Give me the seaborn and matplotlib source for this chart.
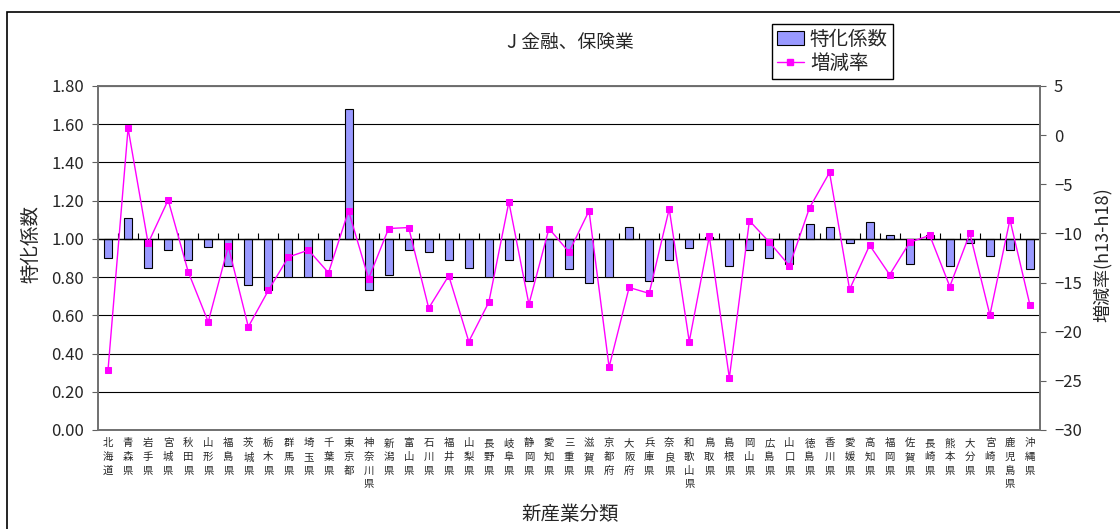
import numpy as np
import matplotlib
matplotlib.use("Agg")
import matplotlib.pyplot as plt
from matplotlib.lines import Line2D
from matplotlib.patches import Patch, Rectangle
from matplotlib.ticker import FormatStrFormatter
import seaborn as sns

prefs = ["北海道", "青森県", "岩手県", "宮城県", "秋田県", "山形県", "福島県",
         "茨城県", "栃木県", "群馬県", "埼玉県", "千葉県", "東京都", "神奈川県",
         "新潟県", "富山県", "石川県", "福井県", "山梨県", "長野県", "岐阜県",
         "静岡県", "愛知県", "三重県", "滋賀県", "京都府", "大阪府", "兵庫県",
         "奈良県", "和歌山県", "鳥取県", "島根県", "岡山県", "広島県", "山口県",
         "徳島県", "香川県", "愛媛県", "高知県", "福岡県", "佐賀県", "長崎県",
         "熊本県", "大分県", "宮崎県", "鹿児島県", "沖縄県"]

# 特化係数
coef = [0.90, 1.11, 0.85, 0.94, 0.89, 0.96, 0.86, 0.76, 0.73, 0.80, 0.80, 0.89,
        1.68, 0.73, 0.81, 0.94, 0.93, 0.89, 0.85, 0.80, 0.89, 0.78, 0.80, 0.84,
        0.77, 0.80, 1.06, 0.78, 0.89, 0.95, 1.01, 0.86, 0.94, 0.90, 0.87, 1.08,
        1.06, 0.98, 1.09, 1.02, 0.87, 1.02, 0.86, 0.98, 0.91, 0.94, 0.84]

# 増減率 (h13-h18)
rate = [-23.9, 0.7, -11.0, -6.6, -13.9, -19.0, -11.3, -19.5, -15.8, -12.4, -11.7,
        -14.0, -7.7, -14.6, -9.5, -9.4, -17.6, -14.3, -21.0, -17.0, -6.8, -17.2,
        -9.5, -11.9, -7.7, -23.6, -15.5, -16.1, -7.5, -21.0, -10.3, -24.7, -8.7,
        -10.9, -13.3, -7.4, -3.8, -15.7, -11.2, -14.2, -10.9, -10.2, -15.4, -10.0,
        -18.3, -8.6, -17.3]

bar_color = "#9999ff"
line_color = "#ff00ff"

sns.set_theme(style="white")
plt.rcParams["font.family"] = ["Noto Sans CJK JP", "DejaVu Sans"]

fig = plt.figure(figsize=(11.2, 5.29), dpi=100)
ax = fig.add_axes([98 / 1120, 1 - 430 / 529, 942 / 1120, 344 / 529])

base = 1.0
sns.barplot(x=prefs, y=np.array(coef) - base, bottom=base, color=bar_color,
            saturation=1, edgecolor="black", linewidth=0.8, width=0.4, ax=ax)

n = len(prefs)
ax.set_xlim(-0.5, n - 0.5)
ax.set_ylim(0, 1.8)
ax.set_yticks(np.arange(0, 1.81, 0.2))
ax.yaxis.set_major_formatter(FormatStrFormatter("%.2f"))
ax.set_axisbelow(True)
ax.yaxis.grid(True, color="black", lw=0.8)
ax.xaxis.grid(False)

# category axis crosses at 1.00
ax.axhline(base, color="black", lw=1, zorder=1)
ax.plot(np.arange(n + 1) - 0.5, np.full(n + 1, base), ls="none", marker=2,
        markersize=4, color="black", markeredgewidth=0.8, zorder=1)

ax.set_xticks(range(n))
ax.set_xticklabels(["\n".join(p) for p in prefs], fontsize=7.5, linespacing=1.45,
                   va="top")
ax.tick_params(axis="x", length=0, pad=6)
ax.tick_params(axis="y", length=4, width=0.8, color="#606060", labelsize=12,
               left=True, pad=6)
ax.set_xlabel("")
ax.set_ylabel("特化係数", fontsize=14)
ax.yaxis.set_label_coords(-0.060, 0.54)

ax2 = ax.twinx()
sns.lineplot(x=np.arange(n), y=rate, ax=ax2, color=line_color, lw=1,
             marker="s", markersize=4.5, markeredgecolor=line_color, sort=False)
ax2.set_ylim(-30, 5)
ax2.set_yticks(np.arange(-30, 6, 5))
ax2.tick_params(axis="y", length=4, width=0.8, color="#606060", labelsize=12,
                right=True, pad=6)
ax2.set_ylabel("増減率(h13-h18)", fontsize=13)
ax2.yaxis.set_label_coords(1.056, 0.51)

for a in (ax, ax2):
    for s in a.spines.values():
        s.set_color("#707070")
        s.set_linewidth(1.2)

fig.text(570 / 1120, 1 - 514 / 529, "新産業分類", ha="center", va="center",
         fontsize=14)
fig.text(570 / 1120, 1 - 42 / 529, "J 金融、保険業", ha="center", va="center",
         fontsize=13.5)

handles = [Patch(facecolor=bar_color, edgecolor="black", lw=0.8),
           Line2D([], [], color=line_color, lw=1, marker="s", markersize=4)]
fig.legend(handles, ["特化係数", "増減率"], loc="upper left",
           bbox_to_anchor=(772 / 1120, 1 - 24 / 529), fontsize=14,
           frameon=True, fancybox=False, edgecolor="black", framealpha=1,
           borderpad=0.25, labelspacing=0.15, handlelength=1.4,
           handletextpad=0.3, borderaxespad=0)

fig.add_artist(Rectangle((7 / 1120, -0.1), 1.2, 1.1 - 12 / 529,
                         transform=fig.transFigure, fill=False,
                         edgecolor="black", lw=1.2))

fig.savefig("out.png", dpi=100)
